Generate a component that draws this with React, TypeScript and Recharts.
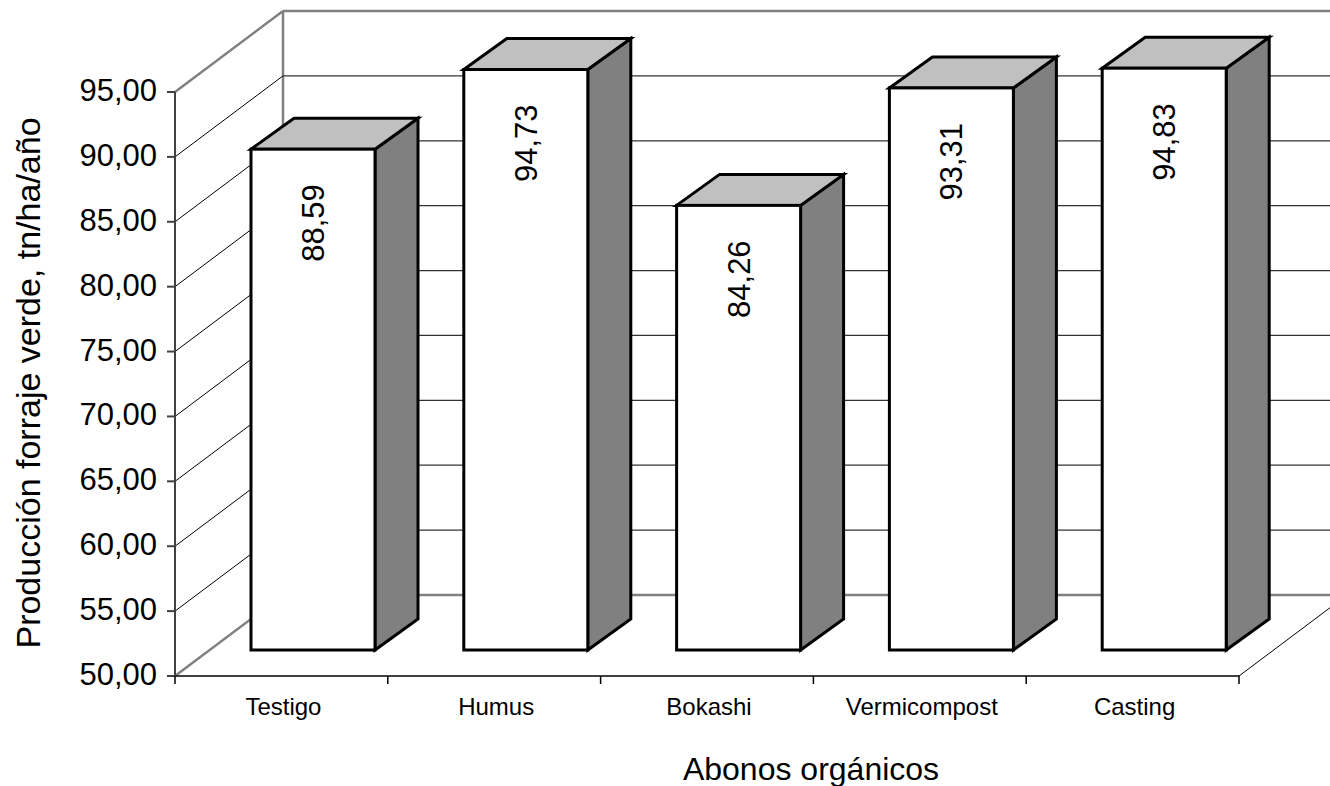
import React from "react";
import { BarChart, Bar, XAxis, YAxis, CartesianGrid, LabelList } from "recharts";

const categories = ["Testigo", "Humus", "Bokashi", "Vermicompost", "Casting"];
const produccion = [88.59, 94.73, 84.26, 93.31, 94.83];
const yTicks = [50, 55, 60, 65, 70, 75, 80, 85, 90, 95];

const data = categories.map((name, i) => ({ name, value: produccion[i] }));

const FONT = '"Liberation Sans", Arial, sans-serif';

// layout of the front plane of the 3D box
const CHART_W = 1330;
const CHART_H = 786;
const PLOT_LEFT = 175;
const PLOT_TOP = 92;
const PLOT_RIGHT = 1239;
const PLOT_BOTTOM = 676;
const BAND = (PLOT_RIGHT - PLOT_LEFT) / categories.length;

// depth of the walls, offset of the bar row, and depth of each box
const WALL_DX = 108;
const WALL_DY = -81;
const BAR_SHIFT_X = 32;
const BAR_SHIFT_Y = -26;
const BOX_DX = 43;
const BOX_DY = -31;

const fmt = (v: number) => v.toFixed(2).replace(".", ",");

const EDGE = "#808080";

function WallLine(props: any) {
  const { x1, x2, y1, index } = props;
  const y = y1;
  const isEdge = Math.abs(y - PLOT_TOP) < 1 || Math.abs(y - PLOT_BOTTOM) < 1;
  return (
    <g>
      {!isEdge && (
        <>
          <line x1={x1} y1={y} x2={x1 + WALL_DX} y2={y + WALL_DY} stroke="#000" strokeWidth={1} />
          <line x1={x1 + WALL_DX} y1={y + WALL_DY} x2={x2 + WALL_DX} y2={y + WALL_DY} stroke="#333" strokeWidth={1.2} />
        </>
      )}
      {index === 0 && (
        <g>
          {/* outer frame of side wall, back wall and floor */}
          <line x1={x1} y1={PLOT_TOP} x2={x1 + WALL_DX} y2={PLOT_TOP + WALL_DY} stroke={EDGE} strokeWidth={2.5} />
          <line x1={x1 + WALL_DX} y1={PLOT_TOP + WALL_DY} x2={x2 + WALL_DX} y2={PLOT_TOP + WALL_DY} stroke={EDGE} strokeWidth={2.5} />
          <line x1={x1} y1={PLOT_BOTTOM} x2={x1 + WALL_DX} y2={PLOT_BOTTOM + WALL_DY} stroke={EDGE} strokeWidth={2.5} />
          <line x1={x1 + WALL_DX} y1={PLOT_BOTTOM + WALL_DY} x2={x2 + WALL_DX} y2={PLOT_BOTTOM + WALL_DY} stroke={EDGE} strokeWidth={2.5} />
          <line x1={x1 + WALL_DX} y1={PLOT_TOP + WALL_DY} x2={x1 + WALL_DX} y2={PLOT_BOTTOM + WALL_DY} stroke={EDGE} strokeWidth={2.5} />
          <line x1={x2} y1={PLOT_BOTTOM} x2={x2 + WALL_DX} y2={PLOT_BOTTOM + WALL_DY} stroke="#000" strokeWidth={1} />
        </g>
      )}
    </g>
  );
}

function Box3D(props: any) {
  const { x, y, width, height } = props;
  if (!height || height <= 0) return null;
  const fx = x + BAR_SHIFT_X;
  const fy = y + BAR_SHIFT_Y;
  const side = `${fx + width},${fy} ${fx + width + BOX_DX},${fy + BOX_DY} ${fx + width + BOX_DX},${fy + height + BOX_DY} ${fx + width},${fy + height}`;
  const top = `${fx},${fy} ${fx + BOX_DX},${fy + BOX_DY} ${fx + width + BOX_DX},${fy + BOX_DY} ${fx + width},${fy}`;
  return (
    <g stroke="#000" strokeWidth={3} strokeLinejoin="miter">
      <polygon points={side} fill="#808080" />
      <polygon points={top} fill="#C0C0C0" />
      <rect x={fx} y={fy} width={width} height={height} fill="#fff" />
    </g>
  );
}

function ValueLabel(props: any) {
  const { x, y, width, value } = props;
  const cx = x + BAR_SHIFT_X + width / 2 + 11;
  const cy = y + BAR_SHIFT_Y + 35;
  return (
    <text
      x={cx}
      y={cy}
      transform={`rotate(-90, ${cx}, ${cy})`}
      textAnchor="end"
      fontFamily={FONT}
      fontSize={31}
      fill="#000"
    >
      {fmt(Number(value))}
    </text>
  );
}

function YTick(props: any) {
  const { x, y, payload } = props;
  return (
    <text x={x} y={y} dy={9} textAnchor="end" fontFamily={FONT} fontSize={31} fill="#000">
      {fmt(payload.value)}
    </text>
  );
}

function XTick(props: any) {
  const { x, payload, index } = props;
  const last = index === categories.length - 1;
  return (
    <g>
      <line x1={x - BAND / 2} y1={PLOT_BOTTOM} x2={x - BAND / 2} y2={PLOT_BOTTOM + 8} stroke="#000" strokeWidth={1.5} />
      {last && (
        <line x1={x + BAND / 2} y1={PLOT_BOTTOM} x2={x + BAND / 2} y2={PLOT_BOTTOM + 8} stroke="#000" strokeWidth={1.5} />
      )}
      <text x={x + 2} y={715} textAnchor="middle" fontFamily={FONT} fontSize={24} fill="#000">
        {payload.value}
      </text>
    </g>
  );
}

export default function App() {
  return (
    <div style={{ position: "absolute", left: 0, top: 0, width: CHART_W, height: CHART_H, background: "#fff" }}>
      <BarChart
        width={CHART_W}
        height={CHART_H}
        data={data}
        margin={{ top: PLOT_TOP, right: CHART_W - PLOT_RIGHT, bottom: 0, left: 0 }}
      >
        <CartesianGrid vertical={false} horizontal={(p: any) => <WallLine key={p.key ?? p.index} {...p} />} />
        <XAxis
          dataKey="name"
          height={CHART_H - PLOT_BOTTOM}
          axisLine={{ stroke: "#000", strokeWidth: 1.5 }}
          tickLine={false}
          tick={<XTick />}
          interval={0}
          label={{
            content: () => (
              <text x={811} y={780} textAnchor="middle" fontFamily={FONT} fontSize={32} fill="#000">
                Abonos orgánicos
              </text>
            ),
          }}
        />
        <YAxis
          type="number"
          domain={[50, 95]}
          ticks={yTicks}
          interval={0}
          width={PLOT_LEFT}
          tickSize={8}
          tickMargin={10}
          axisLine={{ stroke: "#404040", strokeWidth: 2 }}
          tickLine={{ stroke: "#404040", strokeWidth: 2 }}
          tick={<YTick />}
          label={{
            content: () => (
              <text
                x={40}
                y={383}
                transform="rotate(-90, 40, 383)"
                textAnchor="middle"
                fontFamily={FONT}
                fontSize={34}
                fill="#000"
              >
                Producción forraje verde, tn/ha/año
              </text>
            ),
          }}
        />
        <Bar dataKey="value" barSize={124} shape={<Box3D />} isAnimationActive={false}>
          <LabelList dataKey="value" content={<ValueLabel />} />
        </Bar>
      </BarChart>
    </div>
  );
}
